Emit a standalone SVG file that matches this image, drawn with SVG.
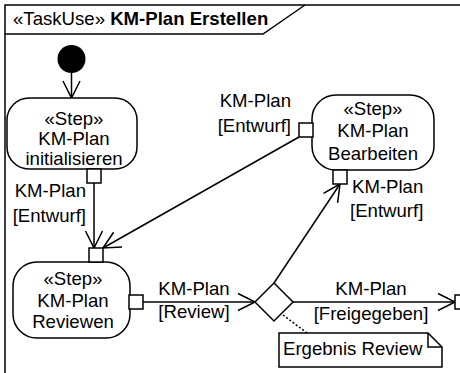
<svg xmlns="http://www.w3.org/2000/svg" width="460" height="373" viewBox="0 0 460 373">
<defs>
<marker id="open" viewBox="0 0 20 20" refX="18" refY="10" markerWidth="20" markerHeight="20" markerUnits="userSpaceOnUse" orient="auto">
<path d="M1,1.5 L18,10 L1,18.5" fill="none" stroke="#000" stroke-width="1.5"/>
</marker>
<style>
text{font-family:"Liberation Sans",Arial,sans-serif;font-size:18.6px;fill:#000}
.b{font-weight:bold}
.m{text-anchor:middle}
.e{text-anchor:end}
.st{fill:#fff;stroke:#000;stroke-width:1.5}
.pin{fill:#fff;stroke:#000;stroke-width:1.5}
.ln{fill:none;stroke:#000;stroke-width:1.5}
.ar{fill:none;stroke:#000;stroke-width:1.5;marker-end:url(#open)}
</style>
</defs>
<rect width="460" height="373" fill="#fff"/>
<g id="frame">
<path d="M5,380 L5,5 L470,5" class="ln"/>
<path d="M5,34 L263,34 L305,5" class="ln"/>
<text x="13" y="25">«TaskUse» <tspan class="b">KM-Plan Erstellen</tspan></text>
</g>
<g id="connectors">
<line x1="71.5" y1="73" x2="71.5" y2="98" class="ar"/>
<line x1="94" y1="183" x2="94" y2="248" class="ar"/>
<line x1="299" y1="137" x2="103" y2="248" class="ar"/>
<line x1="143" y1="302" x2="255" y2="302" class="ar"/>
<line x1="274" y1="283" x2="340" y2="184" class="ar"/>
<line x1="293" y1="302" x2="455" y2="302" class="ar"/>
<line x1="283" y1="315" x2="307" y2="333" class="ln" stroke-dasharray="2,2"/>
</g>
<g id="initial">
<circle cx="71.5" cy="59" r="14" fill="#000"/>
</g>
<g id="step-init">
<rect x="7" y="98" width="130" height="71" rx="22" class="st"/>
<text x="74" y="125" class="m">«Step»</text>
<text x="74" y="145" class="m">KM-Plan</text>
<text x="74" y="165" class="m">initialisieren</text>
<rect x="87" y="169" width="14" height="14" class="pin"/>
<text x="86" y="197" class="e">KM-Plan</text>
<text x="86" y="222" class="e">[Entwurf]</text>
</g>
<g id="step-review">
<rect x="13" y="262" width="117" height="76" rx="24" class="st"/>
<text x="73" y="285" class="m">«Step»</text>
<text x="73" y="307" class="m">KM-Plan</text>
<text x="73" y="328" class="m">Reviewen</text>
<rect x="89" y="248" width="14" height="14" class="pin"/>
<rect x="129" y="295" width="14" height="14" class="pin"/>
<text x="194" y="295" class="m">KM-Plan</text>
<text x="194" y="318" class="m">[Review]</text>
</g>
<g id="step-edit">
<rect x="312" y="95" width="122" height="75" rx="24" class="st"/>
<text x="373" y="115" class="m">«Step»</text>
<text x="373" y="137" class="m">KM-Plan</text>
<text x="373" y="160" class="m">Bearbeiten</text>
<rect x="299" y="123" width="14" height="14" class="pin"/>
<rect x="333" y="170" width="14" height="14" class="pin"/>
<text x="291" y="107" class="e">KM-Plan</text>
<text x="291" y="132" class="e">[Entwurf]</text>
<text x="352" y="193">KM-Plan</text>
<text x="350" y="217">[Entwurf]</text>
</g>
<g id="decision">
<path d="M255,302 L274,283 L293,302 L274,321 Z" class="st"/>
<text x="371" y="295" class="m">KM-Plan</text>
<text x="371" y="320" class="m">[Freigegeben]</text>
</g>
<g id="pin-out">
<rect x="455" y="295" width="14" height="14" class="pin"/>
</g>
<g id="note">
<path d="M279,333 L428,333 L442,347 L442,367 L279,367 Z" class="st"/>
<path d="M428,333 L428,347 L442,347" class="ln"/>
<text x="283" y="355">Ergebnis Review</text>
</g>
</svg>
